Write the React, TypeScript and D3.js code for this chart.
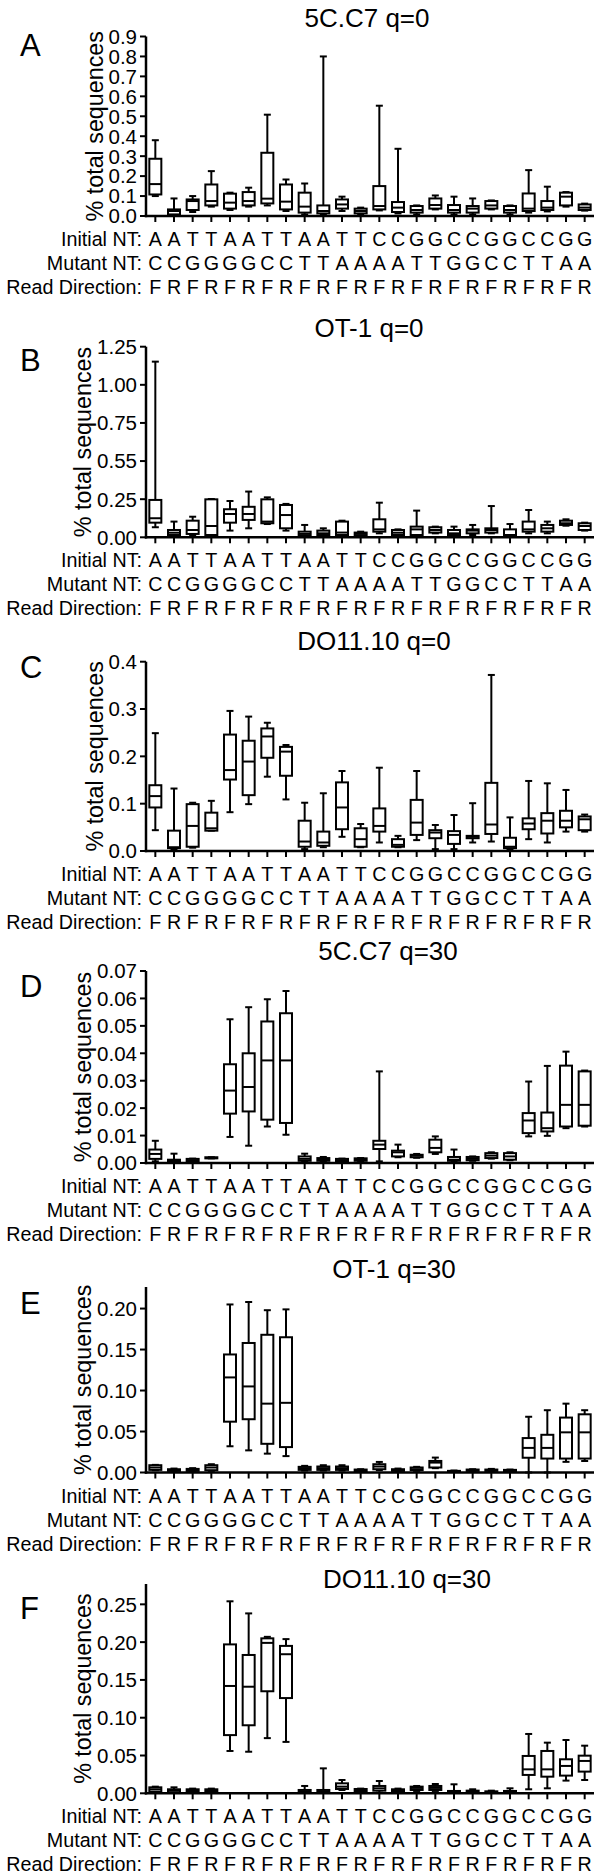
import React from "react";
import * as d3 from "d3";

// ---------- categories ----------
const initialNT = ["A","A","T","T","A","A","T","T","A","A","T","T","C","C","G","G","C","C","G","G","C","C","G","G"];
const mutantNT  = ["C","C","G","G","G","G","C","C","T","T","A","A","A","A","T","T","G","G","C","C","T","T","A","A"];
const readDir   = ["F","R","F","R","F","R","F","R","F","R","F","R","F","R","F","R","F","R","F","R","F","R","F","R"];
const rowLabels = ["Initial NT:", "Mutant NT:", "Read Direction:"];

// ---------- box values: [min, q1, median, q3, max] ----------
const boxesA = [
  [0.100,0.108,0.160,0.287,0.380],[0.003,0.008,0.025,0.033,0.088],[0.020,0.030,0.075,0.083,0.100],[0.047,0.053,0.075,0.158,0.225],
  [0.030,0.037,0.067,0.112,0.117],[0.047,0.053,0.075,0.120,0.142],[0.053,0.063,0.087,0.317,0.508],[0.025,0.033,0.072,0.158,0.183],
  [0.008,0.017,0.047,0.117,0.163],[0.008,0.013,0.025,0.053,0.800],[0.025,0.037,0.058,0.083,0.097],[0.008,0.013,0.025,0.037,0.042],
  [0.028,0.033,0.050,0.150,0.553],[0.013,0.020,0.042,0.070,0.337],[0.008,0.017,0.030,0.050,0.053],[0.033,0.037,0.055,0.088,0.103],
  [0.008,0.017,0.030,0.055,0.097],[0.008,0.017,0.037,0.050,0.088],[0.033,0.037,0.053,0.075,0.078],[0.008,0.017,0.030,0.050,0.053],
  [0.017,0.025,0.037,0.113,0.230],[0.023,0.030,0.042,0.075,0.147],[0.047,0.053,0.097,0.117,0.120],[0.027,0.030,0.042,0.058,0.062],
];
const boxesB = [
  [0.066,0.096,0.125,0.245,1.152],[0.009,0.015,0.030,0.048,0.103],[0.015,0.022,0.048,0.109,0.135],[0.009,0.015,0.074,0.249,0.251],
  [0.044,0.096,0.153,0.184,0.238],[0.059,0.114,0.153,0.200,0.300],[0.087,0.092,0.103,0.249,0.262],[0.044,0.059,0.146,0.212,0.219],
  [0.007,0.011,0.022,0.037,0.081],[0.009,0.015,0.026,0.044,0.059],[0.011,0.015,0.031,0.103,0.109],[0.007,0.011,0.022,0.031,0.037],
  [0.026,0.037,0.052,0.118,0.227],[0.011,0.015,0.030,0.048,0.052],[0.009,0.015,0.052,0.070,0.175],[0.026,0.031,0.048,0.066,0.070],
  [0.007,0.015,0.026,0.048,0.070],[0.015,0.026,0.044,0.052,0.081],[0.026,0.031,0.048,0.059,0.205],[0.007,0.011,0.015,0.052,0.087],
  [0.026,0.037,0.052,0.103,0.179],[0.026,0.037,0.059,0.081,0.103],[0.076,0.081,0.092,0.109,0.118],[0.044,0.048,0.074,0.092,0.096],
];
const boxesC = [
  [0.044,0.092,0.116,0.139,0.249],[0.004,0.006,0.008,0.043,0.132],[0.007,0.009,0.053,0.099,0.102],[0.043,0.043,0.048,0.081,0.106],
  [0.082,0.151,0.171,0.246,0.296],[0.099,0.118,0.189,0.233,0.284],[0.157,0.197,0.242,0.259,0.271],[0.109,0.159,0.210,0.220,0.224],
  [0.004,0.009,0.020,0.064,0.102],[0.008,0.011,0.018,0.041,0.122],[0.030,0.046,0.092,0.145,0.169],[0.008,0.009,0.025,0.048,0.057],
  [0.018,0.041,0.053,0.090,0.176],[0.008,0.009,0.013,0.025,0.032],[0.023,0.034,0.060,0.108,0.169],[0.004,0.027,0.039,0.044,0.055],
  [0.004,0.015,0.034,0.042,0.076],[0.018,0.027,0.030,0.032,0.101],[0.020,0.036,0.056,0.144,0.372],[0.004,0.006,0.009,0.028,0.071],
  [0.025,0.046,0.058,0.069,0.148],[0.018,0.037,0.064,0.080,0.143],[0.041,0.050,0.064,0.085,0.129],[0.041,0.044,0.067,0.073,0.077],
];
const boxesD = [
  [0.0006,0.0015,0.0033,0.0049,0.0081],[0.0002,0.0004,0.0008,0.0012,0.0034],[0.0004,0.0006,0.0010,0.0015,0.0016],[0.0017,0.0017,0.0018,0.0021,0.0021],
  [0.0095,0.0180,0.0264,0.0360,0.0524],[0.0063,0.0188,0.0277,0.0400,0.0568],[0.0133,0.0158,0.0374,0.0516,0.0597],[0.0103,0.0146,0.0374,0.0546,0.0627],
  [0.0006,0.0008,0.0015,0.0024,0.0034],[0.0006,0.0008,0.0012,0.0018,0.0022],[0.0006,0.0007,0.0010,0.0015,0.0016],[0.0007,0.0008,0.0012,0.0017,0.0018],
  [0.0006,0.0051,0.0067,0.0081,0.0334],[0.0021,0.0024,0.0039,0.0045,0.0067],[0.0019,0.0021,0.0027,0.0030,0.0033],[0.0033,0.0039,0.0055,0.0085,0.0097],
  [0.0006,0.0008,0.0012,0.0022,0.0049],[0.0008,0.0010,0.0015,0.0022,0.0024],[0.0016,0.0018,0.0027,0.0036,0.0039],[0.0010,0.0012,0.0024,0.0036,0.0039],
  [0.0097,0.0109,0.0155,0.0182,0.0297],[0.0099,0.0115,0.0127,0.0184,0.0354],[0.0127,0.0133,0.0212,0.0355,0.0406],[0.0133,0.0136,0.0212,0.0334,0.0337],
];
const boxesE = [
  [0.0028,0.0032,0.0061,0.0089,0.0093],[0.0016,0.0020,0.0028,0.0040,0.0048],[0.0016,0.0020,0.0028,0.0044,0.0053],[0.0020,0.0028,0.0061,0.0089,0.0101],
  [0.032,0.062,0.116,0.144,0.205],[0.027,0.065,0.105,0.158,0.208],[0.023,0.035,0.084,0.168,0.198],[0.020,0.031,0.085,0.165,0.199],
  [0.0024,0.0032,0.0053,0.0069,0.0081],[0.0024,0.0032,0.0053,0.0073,0.0089],[0.0024,0.0032,0.0053,0.0073,0.0089],[0.0012,0.0016,0.0024,0.0036,0.0040],
  [0.0028,0.0040,0.0073,0.0101,0.0129],[0.0016,0.0020,0.0028,0.0040,0.0048],[0.0020,0.0028,0.0040,0.0061,0.0069],[0.0053,0.0061,0.0121,0.0141,0.0182],
  [0.0008,0.0012,0.0016,0.0020,0.0024],[0.0016,0.0020,0.0028,0.0036,0.0040],[0.0016,0.0020,0.0028,0.0036,0.0044],[0.0012,0.0016,0.0024,0.0032,0.0036],
  [0.000,0.018,0.030,0.042,0.068],[0.000,0.017,0.030,0.046,0.076],[0.013,0.017,0.049,0.067,0.084],[0.014,0.017,0.049,0.071,0.076],
];
const boxesF = [
  [0.0013,0.0022,0.0053,0.0079,0.0088],[0.0009,0.0013,0.0035,0.0053,0.0079],[0.0013,0.0018,0.0035,0.0053,0.0062],[0.0013,0.0018,0.0035,0.0053,0.0062],
  [0.056,0.077,0.142,0.197,0.254],[0.055,0.090,0.141,0.183,0.238],[0.073,0.135,0.199,0.205,0.207],[0.068,0.126,0.184,0.195,0.204],
  [0.0004,0.0009,0.0022,0.0044,0.0097],[0.0004,0.0009,0.0026,0.0044,0.0330],[0.0044,0.0057,0.0088,0.0132,0.0176],[0.0022,0.0026,0.0044,0.0057,0.0062],
  [0.0009,0.0035,0.0066,0.0097,0.0163],[0.0013,0.0022,0.0035,0.0053,0.0062],[0.0031,0.0044,0.0071,0.0088,0.0097],[0.0031,0.0044,0.0071,0.0097,0.0123],
  [0.0004,0.0009,0.0018,0.0031,0.0119],[0.0009,0.0013,0.0022,0.0035,0.0053],[0.0009,0.0013,0.0018,0.0026,0.0035],[0.0004,0.0009,0.0018,0.0031,0.0066],
  [0.0053,0.0243,0.0317,0.0494,0.0785],[0.0066,0.0220,0.0317,0.0560,0.0670],[0.0168,0.0234,0.0362,0.0450,0.0705],[0.0176,0.0287,0.0428,0.0498,0.0630],
];

// ---------- axis ticks ----------
const ticksA = [0,0.1,0.2,0.3,0.4,0.5,0.6,0.7,0.8,0.9];
const tickLabelsA = ["0.0","0.1","0.2","0.3","0.4","0.5","0.6","0.7","0.8","0.9"];
const ticksB = [0,0.25,0.5,0.75,1.0,1.25];
const tickLabelsB = ["0.00","0.25","0.55","0.75","1.00","1.25"];
const ticksC = [0,0.1,0.2,0.3,0.4];
const tickLabelsC = ["0.0","0.1","0.2","0.3","0.4"];
const ticksD = [0,0.01,0.02,0.03,0.04,0.05,0.06,0.07];
const tickLabelsD = ["0.00","0.01","0.02","0.03","0.04","0.05","0.06","0.07"];
const ticksE = [0,0.05,0.10,0.15,0.20];
const tickLabelsE = ["0.00","0.05","0.10","0.15","0.20"];
const ticksF = [0,0.05,0.10,0.15,0.20,0.25];
const tickLabelsF = ["0.00","0.05","0.10","0.15","0.20","0.25"];

const titles = ["5C.C7 q=0","OT-1 q=0","DO11.10 q=0","5C.C7 q=30","OT-1 q=30","DO11.10 q=30"];
const letters = ["A","B","C","D","E","F"];
const domainMaxes = [0.9, 1.25, 0.4, 0.07, 0.2263, 0.2769];

// ---------- layout (pixel positions) ----------
const layout = [
  { y0: 216, yTop: 36.5, titleY: 26.5, titleX: 367, letterY: 56 },
  { y0: 537.3, yTop: 346.7, titleY: 336.5, titleX: 369, letterY: 371 },
  { y0: 851, yTop: 661.7, titleY: 650, titleX: 374, letterY: 678 },
  { y0: 1163, yTop: 971, titleY: 960, titleX: 388, letterY: 997 },
  { y0: 1472.5, yTop: 1287, titleY: 1278, titleX: 394, letterY: 1314 },
  { y0: 1793.3, yTop: 1584, titleY: 1587.5, titleX: 407, letterY: 1619 },
];

const allBoxes = [boxesA, boxesB, boxesC, boxesD, boxesE, boxesF];
const allTicks = [ticksA, ticksB, ticksC, ticksD, ticksE, ticksF];
const allTickLabels = [tickLabelsA, tickLabelsB, tickLabelsC, tickLabelsD, tickLabelsE, tickLabelsF];

const FONT = "'Liberation Sans', Arial, Helvetica, sans-serif";
const AXIS_X = 146;
const AXIS_RIGHT = 594;
const TICK_FS = 20.5;
const BOX_W = 12;
const CAP_W = 7;

function textW(s: string, fs: number) {
  let w = 0;
  for (const ch of s) w += ch === "." ? 0.278 : 0.556;
  return w * fs;
}

function Panel({ idx }: { idx: number }) {
  const L = layout[idx];
  const boxes = allBoxes[idx];
  const ticks = allTicks[idx];
  const tickLabels = allTickLabels[idx];
  const x = d3.scaleBand<number>().domain(d3.range(24)).range([AXIS_X, AXIS_RIGHT]);
  const y = d3.scaleLinear().domain([0, domainMaxes[idx]]).range([L.y0, L.yTop]);
  const cx = (i: number) => (x(i) as number) + x.bandwidth() / 2;
  const maxLabelW = Math.max(...tickLabels.map((s) => textW(s, TICK_FS)));
  const ylabX = AXIS_X - 9 - maxLabelW - 6;
  const ylabY = (y(domainMaxes[idx]) + y(0)) / 2;
  const rows = [initialNT, mutantNT, readDir];
  return (
    <g>
      <text x={L.titleX} y={L.titleY} textAnchor="middle" fontSize={26}>{titles[idx]}</text>
      <text x={20} y={L.letterY} fontSize={31}>{letters[idx]}</text>
      <text transform={`translate(${ylabX},${ylabY}) rotate(-90)`} textAnchor="middle" fontSize={23.3}>% total sequences</text>
      {ticks.map((t, i) => (
        <g key={"t" + i}>
          <line x1={AXIS_X - 6} x2={AXIS_X} y1={y(t)} y2={y(t)} stroke="#000" strokeWidth={2} />
          <text x={AXIS_X - 9} y={y(t)} dy="0.36em" textAnchor="end" fontSize={TICK_FS}>{tickLabels[i]}</text>
        </g>
      ))}
      {d3.range(24).map((i) => (
        <line key={"xt" + i} x1={cx(i)} x2={cx(i)} y1={L.y0} y2={L.y0 + 6} stroke="#000" strokeWidth={2} />
      ))}
      {boxes.map((b, i) => {
        const [mn, q1, md, q3, mx] = b;
        const c = cx(i);
        return (
          <g key={"b" + i} stroke="#000" strokeWidth={2}>
            <line x1={c} x2={c} y1={y(mx)} y2={y(mn)} />
            <line x1={c - CAP_W / 2} x2={c + CAP_W / 2} y1={y(mx)} y2={y(mx)} />
            <line x1={c - CAP_W / 2} x2={c + CAP_W / 2} y1={y(mn)} y2={y(mn)} />
            <rect x={c - BOX_W / 2} width={BOX_W} y={y(q3)} height={Math.max(0.5, y(q1) - y(q3))} fill="#fff" />
            <line x1={c - BOX_W / 2} x2={c + BOX_W / 2} y1={y(md)} y2={y(md)} />
          </g>
        );
      })}
      <line x1={AXIS_X} x2={AXIS_X} y1={y(domainMaxes[idx])} y2={L.y0 + 1.2} stroke="#000" strokeWidth={2.5} />
      <line x1={AXIS_X - 1.2} x2={AXIS_RIGHT} y1={L.y0} y2={L.y0} stroke="#000" strokeWidth={2.5} />
      {rows.map((r, ri) => (
        <g key={"r" + ri}>
          <text x={142} y={L.y0 + 30 + ri * 24} textAnchor="end" fontSize={19.7}>{rowLabels[ri]}</text>
          {r.map((s, i) => (
            <text key={i} x={cx(i)} y={L.y0 + 30 + ri * 24} textAnchor="middle" fontSize={19.7}>{s}</text>
          ))}
        </g>
      ))}
    </g>
  );
}

export default function App() {
  return (
    <svg width={600} height={1875} viewBox="0 0 600 1875"
      style={{ position: "absolute", left: 0, top: 0, background: "#fff" }}
      fontFamily={FONT} fill="#000">
      <rect x={0} y={0} width={600} height={1875} fill="#fff" />
      {d3.range(6).map((i) => <Panel key={i} idx={i} />)}
    </svg>
  );
}
